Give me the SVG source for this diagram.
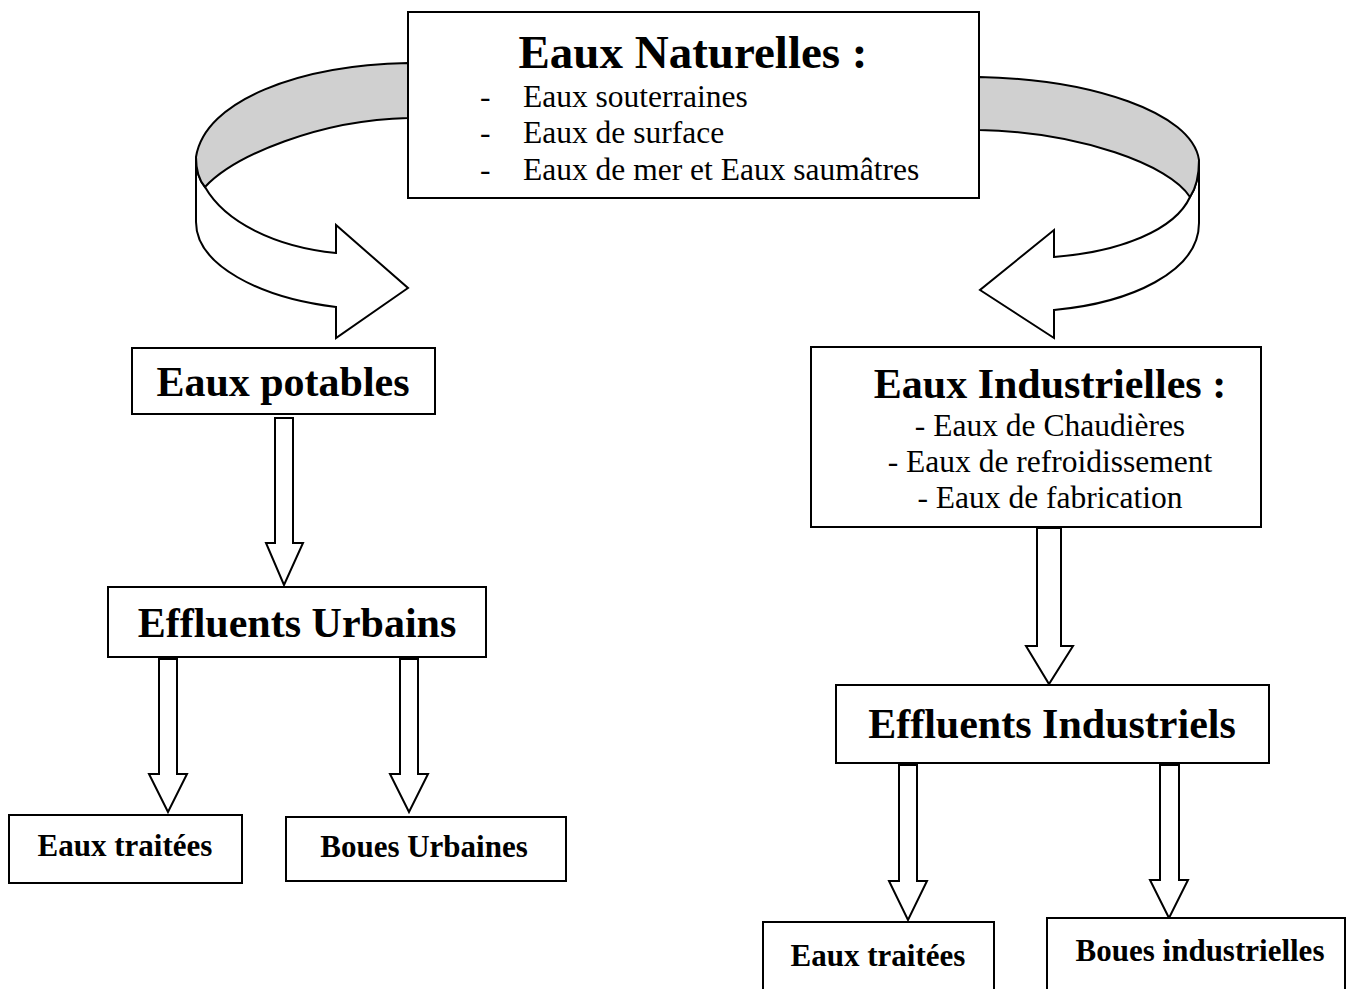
<svg xmlns="http://www.w3.org/2000/svg" width="1357" height="989" viewBox="0 0 1357 989">
<style>
.box{fill:#fff;stroke:#000;stroke-width:2}
.arr{fill:#fff;stroke:#000;stroke-width:2;stroke-linejoin:miter}
.band{fill:#d0d0d0;stroke:#000;stroke-width:2}
text{font-family:"Liberation Serif","Times New Roman",serif;fill:#000}
.t1{font-size:47px;font-weight:bold;text-anchor:middle}
.t2{font-size:42px;font-weight:bold;text-anchor:middle}
.t3{font-size:31px;font-weight:bold;text-anchor:middle}
.s{font-size:31.5px}
.sm{font-size:31.5px;text-anchor:middle}
</style>
<rect width="1357" height="989" fill="#fff"/>
<g id="connectors">
  <path class="arr" d="M196,157 C196,170 199,180 205,187 C225,222 275,247 336,253 L336,225 L408,288 L336,338 L336,307 C260,298 196,265 196,222 Z"/>
  <path class="band" d="M408,63 C300,65 205,100 196,157 C196,170 199,180 205,187 C235,155 320,120 408,118 Z"/>
  <path class="arr" d="M1199,160 C1199,175 1196,188 1190,197 C1175,230 1120,252 1054,257 L1054,230 L980,290 L1054,338 L1054,310 C1130,303 1199,272 1199,223 Z"/>
  <path class="band" d="M979,77 C1090,79 1192,112 1199,160 C1199,175 1196,188 1190,197 C1170,165 1080,132 979,130 Z"/>
  <path class="arr" d="M275,418 L293,418 L293,543 L303,543 L284,585 L266,543 L275,543 Z"/>
  <path class="arr" d="M159,659 L177,659 L177,774 L187,774 L168,812 L149,774 L159,774 Z"/>
  <path class="arr" d="M400,659 L418,659 L418,774 L428,774 L409,812 L390,774 L400,774 Z"/>
  <path class="arr" d="M1037,528 L1061,528 L1061,646 L1073,646 L1049,684 L1026,646 L1037,646 Z"/>
  <path class="arr" d="M899,765 L917,765 L917,881 L927,881 L908,920 L889,881 L899,881 Z"/>
  <path class="arr" d="M1160,765 L1179,765 L1179,880 L1188,880 L1169,918 L1150,880 L1160,880 Z"/>
</g>
<g id="eaux-naturelles">
  <rect class="box" x="408" y="12" width="571" height="186"/>
  <text class="t1" x="693" y="68">Eaux Naturelles :</text>
  <text class="s" x="480" y="107">-</text>
  <text class="s" x="523" y="107">Eaux souterraines</text>
  <text class="s" x="480" y="143">-</text>
  <text class="s" x="523" y="143">Eaux de surface</text>
  <text class="s" x="480" y="180">-</text>
  <text class="s" x="523" y="180">Eaux de mer et Eaux saumâtres</text>
</g>
<g id="eaux-potables">
  <rect class="box" x="132" y="348" width="303" height="66"/>
  <text class="t2" x="283" y="396">Eaux potables</text>
</g>
<g id="effluents-urbains">
  <rect class="box" x="108" y="587" width="378" height="70"/>
  <text class="t2" x="297" y="637">Effluents Urbains</text>
</g>
<g id="eaux-traitees-1">
  <rect class="box" x="9" y="815" width="233" height="68"/>
  <text class="t3" x="125" y="856">Eaux traitées</text>
</g>
<g id="boues-urbaines">
  <rect class="box" x="286" y="817" width="280" height="64"/>
  <text class="t3" x="424" y="857">Boues Urbaines</text>
</g>
<g id="eaux-industrielles">
  <rect class="box" x="811" y="347" width="450" height="180"/>
  <text class="t2" x="1050" y="398">Eaux Industrielles :</text>
  <text class="sm" x="1050" y="436">- Eaux de Chaudières</text>
  <text class="sm" x="1050" y="472">- Eaux de refroidissement</text>
  <text class="sm" x="1050" y="508">- Eaux de fabrication</text>
</g>
<g id="effluents-industriels">
  <rect class="box" x="836" y="685" width="433" height="78"/>
  <text class="t2" x="1052" y="738">Effluents Industriels</text>
</g>
<g id="eaux-traitees-2">
  <rect class="box" x="763" y="922" width="231" height="80"/>
  <text class="t3" x="878" y="966">Eaux traitées</text>
</g>
<g id="boues-industrielles">
  <rect class="box" x="1047" y="918" width="298" height="84"/>
  <text class="t3" x="1200" y="961">Boues industrielles</text>
</g>
</svg>
